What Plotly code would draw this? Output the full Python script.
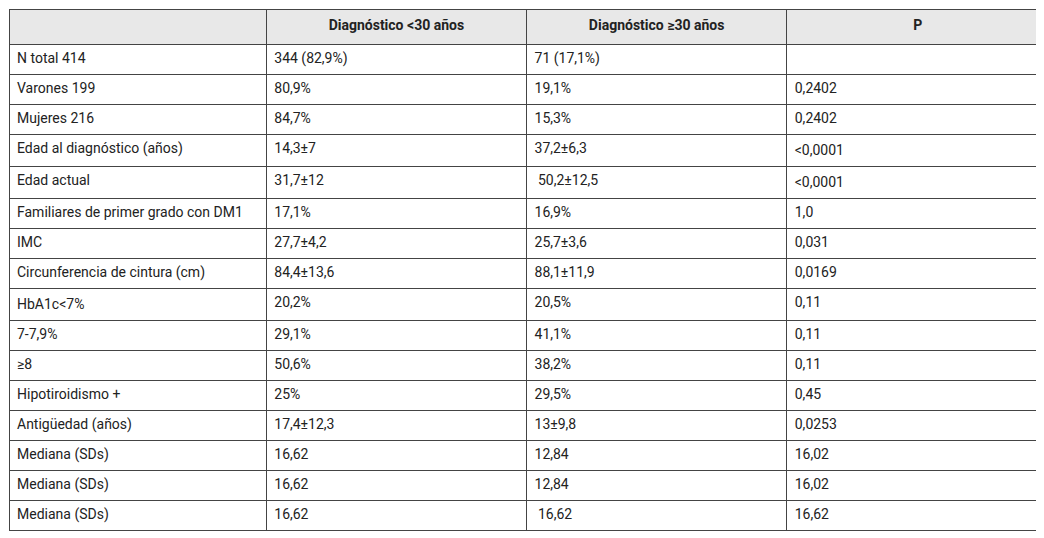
import plotly.graph_objects as go

headers = ["", "<b>Diagnóstico <30 años</b>", "<b>Diagnóstico ≥30 años</b>", "<b>P</b>"]

variables = ["N total 414", "Varones 199", "Mujeres 216", "Edad al diagnóstico (años)",
             "Edad actual", "Familiares de primer grado con DM1", "IMC",
             "Circunferencia de cintura (cm)", "HbA1c<7%", "7-7,9%", "≥8",
             "Hipotiroidismo +", "Antigüedad (años)", "Mediana (SDs)", "Mediana (SDs)",
             "Mediana (SDs)"]
menor30 = ["344 (82,9%)", "80,9%", "84,7%", "14,3±7", "31,7±12", "17,1%", "27,7±4,2",
           "84,4±13,6", "20,2%", "29,1%", "50,6%", "25%", "17,4±12,3", "16,62", "16,62",
           "16,62"]
mayor30 = ["71 (17,1%)", "19,1%", "15,3%", "37,2±6,3", " 50,2±12,5", "16,9%", "25,7±3,6",
           "88,1±11,9", "20,5%", "41,1%", "38,2%", "29,5%", "13±9,8", "12,84", "12,84",
           " 16,62"]
p_valor = ["", "0,2402", "0,2402", "<0,0001", "<0,0001", "1,0", "0,031", "0,0169",
           "0,11", "0,11", "0,11", "0,45", "0,0253", "16,02", "16,02", "16,62"]

font = dict(family="Liberation Sans Narrow, Roboto, sans-serif", size=14, color="#222")

fig = go.Figure(go.Table(
    columnwidth=[258, 261, 261, 263],
    header=dict(values=headers, fill_color="#e8e8e8", align="center",
                line=dict(color="#444", width=1), font=font, height=35),
    cells=dict(values=[variables, menor30, mayor30, p_valor], fill_color="white",
               align="left", line=dict(color="#444", width=1), font=font, height=30),
))
fig.update_layout(width=1044, height=538, margin=dict(l=1, r=3, t=1, b=0),
                  paper_bgcolor="white")
fig.write_html("out.html")
